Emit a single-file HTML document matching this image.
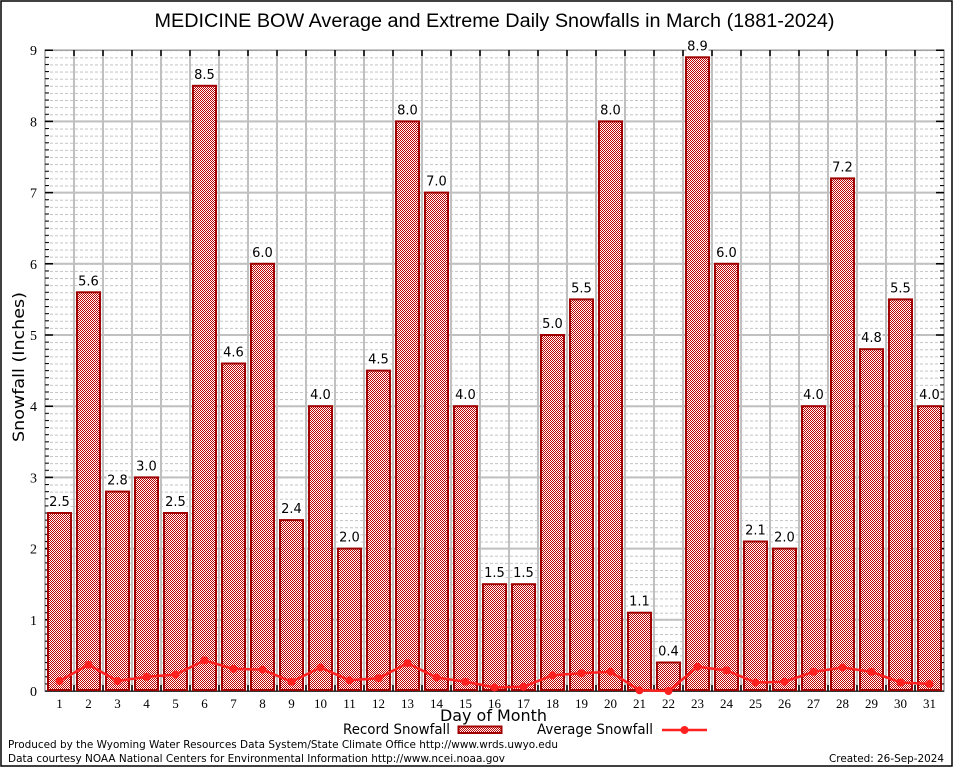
<!DOCTYPE html>
<html><head><meta charset="utf-8"><style>
html,body{margin:0;padding:0;background:#fff;}
svg{display:block;}
text{font-family:"DejaVu Sans","Liberation Sans",sans-serif;}
.ser text{font-family:"Liberation Serif","DejaVu Serif",serif;}
.vl text{font-size:13px;text-anchor:middle;fill:#000;}
.xl text{font-size:13px;text-anchor:middle;}
.yl text{font-size:14px;text-anchor:end;}
</style></head><body>
<svg width="954" height="768" viewBox="0 0 954 768" xmlns="http://www.w3.org/2000/svg">
<defs>
<pattern id="chk" patternUnits="userSpaceOnUse" width="2" height="2">
<rect width="2" height="2" fill="#fff"/>
<rect x="0" y="0" width="1" height="1" fill="#c00000"/>
<rect x="1" y="1" width="1" height="1" fill="#c00000"/>
</pattern>
<pattern id="minor" patternUnits="userSpaceOnUse" x="45" y="50.2" width="5" height="7.12">
<rect x="0" y="0" width="3" height="1" fill="#c4c4c4"/>
</pattern>
<pattern id="ltick" patternUnits="userSpaceOnUse" x="45" y="49.7" width="5" height="7.12">
<rect x="0" y="0" width="5" height="1" fill="#000"/>
</pattern>
</defs>
<rect x="0" y="0" width="954" height="768" fill="#fff"/>
<rect x="1" y="1" width="951" height="765" fill="none" stroke="#000" stroke-width="1.5"/>

<text x="494.5" y="27" font-size="19" text-anchor="middle" textLength="680" lengthAdjust="spacingAndGlyphs" style="font-family:'Liberation Sans',sans-serif">MEDICINE BOW Average and Extreme Daily Snowfalls in March (1881-2024)</text>

<!-- minor grid -->
<rect x="46" y="50.2" width="897" height="640.8" fill="url(#minor)"/>
<!-- vertical grid -->
<g stroke="#c0c0c0" stroke-width="2">
<path d="M74 50V691M103 50V691M132 50V691M161 50V691M190 50V691M219 50V691M248 50V691M277 50V691M306 50V691M335 50V691M364 50V691M393 50V691M422 50V691M451 50V691M480 50V691M509 50V691M538 50V691M567 50V691M596 50V691M625 50V691M654 50V691M683 50V691M712 50V691M741 50V691M770 50V691M799 50V691M828 50V691M857 50V691M886 50V691M915 50V691"/>
<path d="M45 619.8H944M45 548.6H944M45 477.4H944M45 406.2H944M45 335H944M45 263.8H944M45 192.6H944M45 121.4H944"/>
</g>
<!-- frame -->
<rect x="45" y="50.2" width="899" height="640.8" fill="none" stroke="#a0a0a0" stroke-width="1.5"/>
<!-- ticks -->
<rect x="45" y="50" width="4" height="641" fill="url(#ltick)"/>
<rect x="940" y="50" width="4" height="641" fill="url(#ltick)"/>
<g stroke="#000" stroke-width="1.5">
<path d="M45 619.8h8M45 548.6h8M45 477.4h8M45 406.2h8M45 335h8M45 263.8h8M45 192.6h8M45 121.4h8M45 50.2h8M944 619.8h-8M944 548.6h-8M944 477.4h-8M944 406.2h-8M944 335h-8M944 263.8h-8M944 192.6h-8M944 121.4h-8M944 50.2h-8"/>
<path d="M74 50v6M103 50v6M132 50v6M161 50v6M190 50v6M219 50v6M248 50v6M277 50v6M306 50v6M335 50v6M364 50v6M393 50v6M422 50v6M451 50v6M480 50v6M509 50v6M538 50v6M567 50v6M596 50v6M625 50v6M654 50v6M683 50v6M712 50v6M741 50v6M770 50v6M799 50v6M828 50v6M857 50v6M886 50v6M915 50v6"/>
<path d="M74 691v-6M103 691v-6M132 691v-6M161 691v-6M190 691v-6M219 691v-6M248 691v-6M277 691v-6M306 691v-6M335 691v-6M364 691v-6M393 691v-6M422 691v-6M451 691v-6M480 691v-6M509 691v-6M538 691v-6M567 691v-6M596 691v-6M625 691v-6M654 691v-6M683 691v-6M712 691v-6M741 691v-6M770 691v-6M799 691v-6M828 691v-6M857 691v-6M886 691v-6M915 691v-6"/>
<path d="M45 691.2H944" stroke="#000" stroke-width="1"/>
</g>

<!-- bars -->
<g fill="url(#chk)" stroke="#a00000" stroke-width="2">
<rect x="48" y="513" width="23" height="177"/>
<rect x="77" y="292.3" width="23" height="397.7"/>
<rect x="106" y="491.6" width="23" height="198.4"/>
<rect x="135" y="477.4" width="23" height="212.6"/>
<rect x="164" y="513" width="23" height="177"/>
<rect x="193" y="85.8" width="23" height="604.2"/>
<rect x="222" y="363.5" width="23" height="326.5"/>
<rect x="251" y="263.8" width="23" height="426.2"/>
<rect x="280" y="520.1" width="23" height="169.9"/>
<rect x="309" y="406.2" width="23" height="283.8"/>
<rect x="338" y="548.6" width="23" height="141.4"/>
<rect x="367" y="370.6" width="23" height="319.4"/>
<rect x="396" y="121.4" width="23" height="568.6"/>
<rect x="425" y="192.6" width="23" height="497.4"/>
<rect x="454" y="406.2" width="23" height="283.8"/>
<rect x="483" y="584.2" width="23" height="105.8"/>
<rect x="512" y="584.2" width="23" height="105.8"/>
<rect x="541" y="335" width="23" height="355"/>
<rect x="570" y="299.4" width="23" height="390.6"/>
<rect x="599" y="121.4" width="23" height="568.6"/>
<rect x="628" y="612.7" width="23" height="77.3"/>
<rect x="657" y="662.5" width="23" height="27.5"/>
<rect x="686" y="57.3" width="23" height="632.7"/>
<rect x="715" y="263.8" width="23" height="426.2"/>
<rect x="744" y="541.5" width="23" height="148.5"/>
<rect x="773" y="548.6" width="23" height="141.4"/>
<rect x="802" y="406.2" width="23" height="283.8"/>
<rect x="831" y="178.4" width="23" height="511.6"/>
<rect x="860" y="349.2" width="23" height="340.8"/>
<rect x="889" y="299.4" width="23" height="390.6"/>
<rect x="918" y="406.2" width="23" height="283.8"/>
</g>

<!-- label backgrounds -->
<g fill="#fff">
<rect x="48.5" y="495" width="22" height="13"/>
<rect x="77.5" y="274.3" width="22" height="13"/>
<rect x="106.5" y="473.6" width="22" height="13"/>
<rect x="135.5" y="459.4" width="22" height="13"/>
<rect x="164.5" y="495" width="22" height="13"/>
<rect x="193.5" y="67.8" width="22" height="13"/>
<rect x="222.5" y="345.5" width="22" height="13"/>
<rect x="251.5" y="245.8" width="22" height="13"/>
<rect x="280.5" y="502.1" width="22" height="13"/>
<rect x="309.5" y="388.2" width="22" height="13"/>
<rect x="338.5" y="530.6" width="22" height="13"/>
<rect x="367.5" y="352.6" width="22" height="13"/>
<rect x="396.5" y="103.4" width="22" height="13"/>
<rect x="425.5" y="174.6" width="22" height="13"/>
<rect x="454.5" y="388.2" width="22" height="13"/>
<rect x="483.5" y="566.2" width="22" height="13"/>
<rect x="512.5" y="566.2" width="22" height="13"/>
<rect x="541.5" y="317" width="22" height="13"/>
<rect x="570.5" y="281.4" width="22" height="13"/>
<rect x="599.5" y="103.4" width="22" height="13"/>
<rect x="628.5" y="594.7" width="22" height="13"/>
<rect x="657.5" y="644.5" width="22" height="13"/>
<rect x="686.5" y="39.3" width="22" height="13"/>
<rect x="715.5" y="245.8" width="22" height="13"/>
<rect x="744.5" y="523.5" width="22" height="13"/>
<rect x="773.5" y="530.6" width="22" height="13"/>
<rect x="802.5" y="388.2" width="22" height="13"/>
<rect x="831.5" y="160.4" width="22" height="13"/>
<rect x="860.5" y="331.2" width="22" height="13"/>
<rect x="889.5" y="281.4" width="22" height="13"/>
<rect x="918.5" y="388.2" width="22" height="13"/>
</g>
<g class="vl">
<text x="59.5" y="506">2.5</text>
<text x="88.5" y="285.3">5.6</text>
<text x="117.5" y="484.6">2.8</text>
<text x="146.5" y="470.4">3.0</text>
<text x="175.5" y="506">2.5</text>
<text x="204.5" y="78.8">8.5</text>
<text x="233.5" y="356.5">4.6</text>
<text x="262.5" y="256.8">6.0</text>
<text x="291.5" y="513.1">2.4</text>
<text x="320.5" y="399.2">4.0</text>
<text x="349.5" y="541.6">2.0</text>
<text x="378.5" y="363.6">4.5</text>
<text x="407.5" y="114.4">8.0</text>
<text x="436.5" y="185.6">7.0</text>
<text x="465.5" y="399.2">4.0</text>
<text x="494.5" y="577.2">1.5</text>
<text x="523.5" y="577.2">1.5</text>
<text x="552.5" y="328">5.0</text>
<text x="581.5" y="292.4">5.5</text>
<text x="610.5" y="114.4">8.0</text>
<text x="639.5" y="605.7">1.1</text>
<text x="668.5" y="655.5">0.4</text>
<text x="697.5" y="50.3">8.9</text>
<text x="726.5" y="256.8">6.0</text>
<text x="755.5" y="534.5">2.1</text>
<text x="784.5" y="541.6">2.0</text>
<text x="813.5" y="399.2">4.0</text>
<text x="842.5" y="171.4">7.2</text>
<text x="871.5" y="342.2">4.8</text>
<text x="900.5" y="292.4">5.5</text>
<text x="929.5" y="399.2">4.0</text>
</g>

<!-- average line -->
<polyline fill="none" stroke="#ff2020" stroke-width="2.5" stroke-linejoin="round" points="59.5,681 88.5,664.7 117.5,681 146.5,676.8 175.5,674.6 204.5,660.4 233.5,668.9 262.5,669.6 291.5,681.7 320.5,667.5 349.5,680.3 378.5,678.2 407.5,663.2 436.5,677.5 465.5,681.7 494.5,687.4 523.5,686.7 552.5,675.3 581.5,673.2 610.5,671.8 639.5,690.3 668.5,691 697.5,666.8 726.5,670.4 755.5,682.5 784.5,681.7 813.5,671.8 842.5,667.5 871.5,671.8 900.5,682.5 929.5,683.9"/>
<g fill="#ff2020">
<circle cx="59.5" cy="681" r="4"/><circle cx="88.5" cy="664.7" r="4"/><circle cx="117.5" cy="681" r="4"/><circle cx="146.5" cy="676.8" r="4"/><circle cx="175.5" cy="674.6" r="4"/><circle cx="204.5" cy="660.4" r="4"/><circle cx="233.5" cy="668.9" r="4"/><circle cx="262.5" cy="669.6" r="4"/><circle cx="291.5" cy="681.7" r="4"/><circle cx="320.5" cy="667.5" r="4"/><circle cx="349.5" cy="680.3" r="4"/><circle cx="378.5" cy="678.2" r="4"/><circle cx="407.5" cy="663.2" r="4"/><circle cx="436.5" cy="677.5" r="4"/><circle cx="465.5" cy="681.7" r="4"/><circle cx="494.5" cy="687.4" r="4"/><circle cx="523.5" cy="686.7" r="4"/><circle cx="552.5" cy="675.3" r="4"/><circle cx="581.5" cy="673.2" r="4"/><circle cx="610.5" cy="671.8" r="4"/><circle cx="639.5" cy="690.3" r="4"/><circle cx="668.5" cy="691" r="4"/><circle cx="697.5" cy="666.8" r="4"/><circle cx="726.5" cy="670.4" r="4"/><circle cx="755.5" cy="682.5" r="4"/><circle cx="784.5" cy="681.7" r="4"/><circle cx="813.5" cy="671.8" r="4"/><circle cx="842.5" cy="667.5" r="4"/><circle cx="871.5" cy="671.8" r="4"/><circle cx="900.5" cy="682.5" r="4"/><circle cx="929.5" cy="683.9" r="4"/>
</g>

<!-- y tick labels -->
<g class="ser yl">
<text x="37" y="696">0</text>
<text x="37" y="624.8">1</text>
<text x="37" y="553.6">2</text>
<text x="37" y="482.4">3</text>
<text x="37" y="411.2">4</text>
<text x="37" y="340">5</text>
<text x="37" y="268.8">6</text>
<text x="37" y="197.6">7</text>
<text x="37" y="126.4">8</text>
<text x="37" y="55.2">9</text>
</g>
<!-- x tick labels -->
<g class="ser xl">
<text x="59.5" y="708">1</text><text x="88.5" y="708">2</text><text x="117.5" y="708">3</text><text x="146.5" y="708">4</text><text x="175.5" y="708">5</text><text x="204.5" y="708">6</text><text x="233.5" y="708">7</text><text x="262.5" y="708">8</text><text x="291.5" y="708">9</text><text x="320.5" y="708">10</text><text x="349.5" y="708">11</text><text x="378.5" y="708">12</text><text x="407.5" y="708">13</text><text x="436.5" y="708">14</text><text x="465.5" y="708">15</text><text x="494.5" y="708">16</text><text x="523.5" y="708">17</text><text x="552.5" y="708">18</text><text x="581.5" y="708">19</text><text x="610.5" y="708">20</text><text x="639.5" y="708">21</text><text x="668.5" y="708">22</text><text x="697.5" y="708">23</text><text x="726.5" y="708">24</text><text x="755.5" y="708">25</text><text x="784.5" y="708">26</text><text x="813.5" y="708">27</text><text x="842.5" y="708">28</text><text x="871.5" y="708">29</text><text x="900.5" y="708">30</text><text x="929.5" y="708">31</text>
</g>

<text x="493.5" y="721" font-size="16" text-anchor="middle" textLength="107" lengthAdjust="spacingAndGlyphs">Day of Month</text>
<text transform="translate(24,367) rotate(-90)" font-size="16" text-anchor="middle" textLength="150" lengthAdjust="spacingAndGlyphs">Snowfall (Inches)</text>

<!-- legend -->
<text x="343" y="734" font-size="14.5" textLength="107" lengthAdjust="spacingAndGlyphs">Record Snowfall</text>
<rect x="458.5" y="726.5" width="43" height="6.5" fill="url(#chk)" stroke="#a00000" stroke-width="2"/>
<text x="537" y="734" font-size="14.5" textLength="116" lengthAdjust="spacingAndGlyphs">Average Snowfall</text>
<path d="M662 730H707" stroke="#ff2020" stroke-width="2.5"/>
<circle cx="684.5" cy="730" r="4" fill="#ff2020"/>

<!-- footer -->
<text x="8" y="748" font-size="11" textLength="550" lengthAdjust="spacingAndGlyphs">Produced by the Wyoming Water Resources Data System/State Climate Office http://www.wrds.uwyo.edu</text>
<text x="8" y="762" font-size="11" textLength="497" lengthAdjust="spacingAndGlyphs">Data courtesy NOAA National Centers for Environmental Information http://www.ncei.noaa.gov</text>
<text x="944" y="762" font-size="11" text-anchor="end" textLength="115" lengthAdjust="spacingAndGlyphs">Created: 26-Sep-2024</text>
</svg>
</body></html>
